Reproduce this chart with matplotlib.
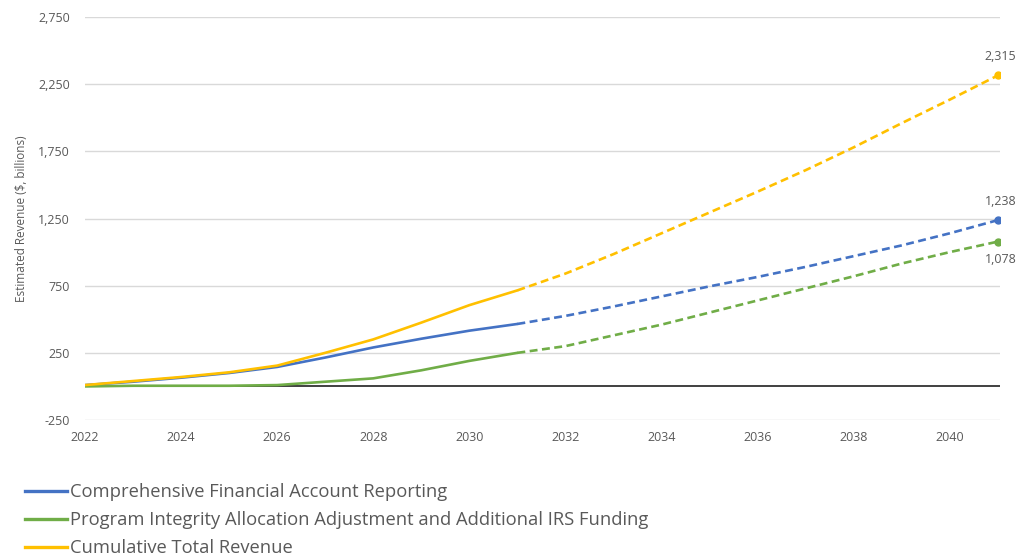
import numpy as np
import matplotlib
matplotlib.use("Agg")
import matplotlib.pyplot as plt
from matplotlib.lines import Line2D

plt.rcParams["font.family"] = ["Open Sans", "DejaVu Sans"]

years = list(range(2022, 2042))
# values ($ billions); solid through 2031, dashed after
cfar = [10, 35, 65, 100, 145, 215, 290, 355, 415, 465,
        525, 595, 670, 745, 815, 890, 970, 1050, 1140, 1238]
irs = [0, 5, 5, 5, 10, 35, 60, 120, 190, 250,
       300, 380, 460, 550, 640, 730, 820, 915, 1000, 1078]
total = [10, 40, 70, 105, 155, 250, 350, 475, 605, 715,
         840, 985, 1140, 1295, 1450, 1610, 1780, 1960, 2135, 2315]
end_labels = ["1,238", "1,078", "2,315"]
series_names = [
    "Comprehensive Financial Account Reporting",
    "Program Integrity Allocation Adjustment and Additional IRS Funding",
    "Cumulative Total Revenue",
]
colors = ["#4472C4", "#70AD47", "#FFC000"]
split_year = 2031
yticks = [-250, 250, 750, 1250, 1750, 2250, 2750]
xticks = list(range(2022, 2041, 2))

fig = plt.figure(figsize=(10.29, 5.58), dpi=100)
ax = fig.add_axes([0.0826, 0.2473, 0.889, 0.7222])

x = np.array(years)
k = years.index(split_year)

for vals, c in zip([cfar, irs, total], colors):
    v = np.array(vals)
    ax.plot(x[: k + 1], v[: k + 1], color=c, lw=1.9, solid_capstyle="round", zorder=3)
    ax.plot(x[k:], v[k:], color=c, lw=1.9, linestyle=(0, (3.0, 1.7)), zorder=3)
    ax.plot(x[-1], v[-1], "o", color=c, ms=5, zorder=4)

ax.axhline(0, color="#404040", lw=1.4, zorder=2)

# end value labels
lab = dict(fontsize=9, color="#595959", ha="center", textcoords="offset points")
ax.annotate(end_labels[2], (x[-1], total[-1]), xytext=(2, 9), va="bottom", **lab)
ax.annotate(end_labels[0], (x[-1], cfar[-1]), xytext=(2, 9), va="bottom", **lab)
ax.annotate(end_labels[1], (x[-1], irs[-1]), xytext=(2, -8), va="top", **lab)

ax.set_xlim(2022, 2041.04)
ax.set_ylim(-250, 2750)
ax.set_yticks(yticks)
ax.set_yticklabels([f"{t:,}" for t in yticks])
ax.set_xticks(xticks)
ax.grid(axis="y", color="#d9d9d9", lw=1)
ax.set_axisbelow(True)
for s in ax.spines.values():
    s.set_visible(False)
ax.tick_params(axis="both", length=0, labelsize=9, labelcolor="#595959")
ax.tick_params(axis="y", pad=11)
ax.tick_params(axis="x", pad=8)
ax.set_ylabel("Estimated Revenue ($, billions)", fontsize=8.5, color="#595959", labelpad=7)

handles = [Line2D([0], [0], color=c, lw=2.4) for c in colors]
fig.legend(handles, series_names, loc="upper left", bbox_to_anchor=(0.017, 0.147),
           frameon=False, fontsize=13.2, handlelength=2.3, handletextpad=0.15,
           labelspacing=0.55, labelcolor="#595959", borderaxespad=0)

fig.savefig("out.png", dpi=100)
